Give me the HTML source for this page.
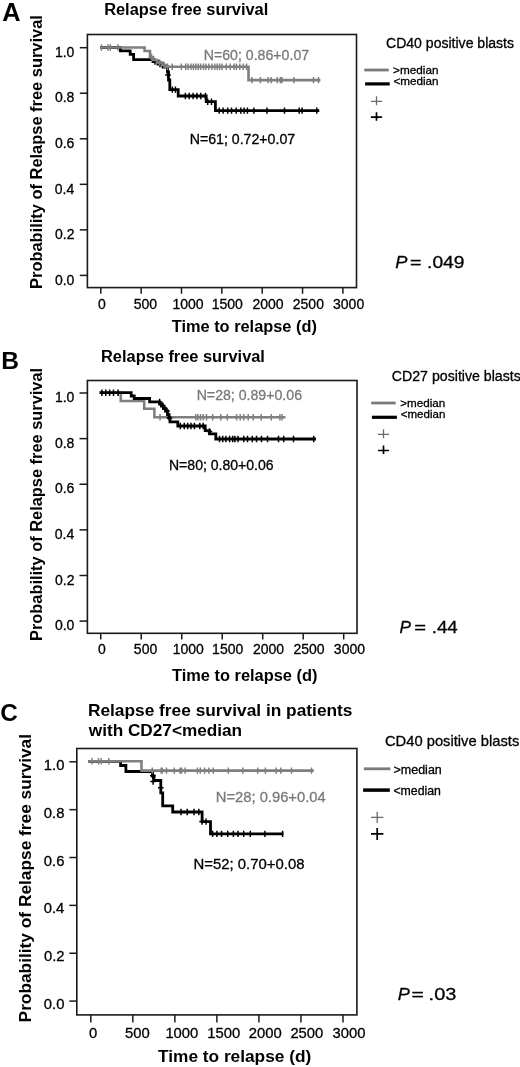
<!DOCTYPE html>
<html><head><meta charset="utf-8"><style>
html,body{margin:0;padding:0;background:#fff;}
svg{display:block;filter:blur(0.35px);}
text{font-family:"Liberation Sans",sans-serif;}
</style></head><body>
<svg width="520" height="1067" viewBox="0 0 520 1067">
<rect width="520" height="1067" fill="#fff"/>
<rect x="87.4" y="34.5" width="269.1" height="253.10000000000002" fill="none" stroke="#1a1a1a" stroke-width="1.6"/>
<line x1="79.8" y1="275.40" x2="87.4" y2="275.40" stroke="#1a1a1a" stroke-width="1.5"/>
<text x="54.90" y="284.60" font-size="14" stroke="#000" stroke-width="0.3">0.0</text>
<line x1="79.8" y1="229.86" x2="87.4" y2="229.86" stroke="#1a1a1a" stroke-width="1.5"/>
<text x="55.04" y="239.06" font-size="14" stroke="#000" stroke-width="0.3">0.2</text>
<line x1="79.8" y1="184.32" x2="87.4" y2="184.32" stroke="#1a1a1a" stroke-width="1.5"/>
<text x="54.76" y="193.52" font-size="14" stroke="#000" stroke-width="0.3">0.4</text>
<line x1="79.8" y1="138.78" x2="87.4" y2="138.78" stroke="#1a1a1a" stroke-width="1.5"/>
<text x="54.90" y="147.98" font-size="14" stroke="#000" stroke-width="0.3">0.6</text>
<line x1="79.8" y1="93.24" x2="87.4" y2="93.24" stroke="#1a1a1a" stroke-width="1.5"/>
<text x="54.90" y="102.44" font-size="14" stroke="#000" stroke-width="0.3">0.8</text>
<line x1="79.8" y1="47.70" x2="87.4" y2="47.70" stroke="#1a1a1a" stroke-width="1.5"/>
<text x="54.90" y="56.90" font-size="14" stroke="#000" stroke-width="0.3">1.0</text>
<line x1="100.80" y1="287.6" x2="100.80" y2="293.8" stroke="#1a1a1a" stroke-width="1.5"/>
<text x="98.03" y="308.7" font-size="14" stroke="#000" stroke-width="0.3">0</text>
<line x1="141.15" y1="287.6" x2="141.15" y2="293.8" stroke="#1a1a1a" stroke-width="1.5"/>
<text x="133.76" y="308.7" font-size="14" stroke="#000" stroke-width="0.3">500</text>
<line x1="181.50" y1="287.6" x2="181.50" y2="293.8" stroke="#1a1a1a" stroke-width="1.5"/>
<text x="172.53" y="308.7" font-size="14" stroke="#000" stroke-width="0.3">1000</text>
<line x1="221.85" y1="287.6" x2="221.85" y2="293.8" stroke="#1a1a1a" stroke-width="1.5"/>
<text x="211.73" y="308.7" font-size="14" stroke="#000" stroke-width="0.3">1500</text>
<line x1="262.20" y1="287.6" x2="262.20" y2="293.8" stroke="#1a1a1a" stroke-width="1.5"/>
<text x="252.39" y="308.7" font-size="14" stroke="#000" stroke-width="0.3">2000</text>
<line x1="302.55" y1="287.6" x2="302.55" y2="293.8" stroke="#1a1a1a" stroke-width="1.5"/>
<text x="292.79" y="308.7" font-size="14" stroke="#000" stroke-width="0.3">2500</text>
<line x1="342.90" y1="287.6" x2="342.90" y2="293.8" stroke="#1a1a1a" stroke-width="1.5"/>
<text x="333.06" y="308.7" font-size="14" stroke="#000" stroke-width="0.3">3000</text>
<rect x="87.4" y="380.5" width="269.6" height="252.79999999999995" fill="none" stroke="#1a1a1a" stroke-width="1.6"/>
<line x1="79.5" y1="621.10" x2="87.4" y2="621.10" stroke="#1a1a1a" stroke-width="1.5"/>
<text x="54.90" y="630.30" font-size="14" stroke="#000" stroke-width="0.3">0.0</text>
<line x1="79.5" y1="575.48" x2="87.4" y2="575.48" stroke="#1a1a1a" stroke-width="1.5"/>
<text x="55.04" y="584.68" font-size="14" stroke="#000" stroke-width="0.3">0.2</text>
<line x1="79.5" y1="529.86" x2="87.4" y2="529.86" stroke="#1a1a1a" stroke-width="1.5"/>
<text x="54.76" y="539.06" font-size="14" stroke="#000" stroke-width="0.3">0.4</text>
<line x1="79.5" y1="484.24" x2="87.4" y2="484.24" stroke="#1a1a1a" stroke-width="1.5"/>
<text x="54.90" y="493.44" font-size="14" stroke="#000" stroke-width="0.3">0.6</text>
<line x1="79.5" y1="438.62" x2="87.4" y2="438.62" stroke="#1a1a1a" stroke-width="1.5"/>
<text x="54.90" y="447.82" font-size="14" stroke="#000" stroke-width="0.3">0.8</text>
<line x1="79.5" y1="393.00" x2="87.4" y2="393.00" stroke="#1a1a1a" stroke-width="1.5"/>
<text x="54.90" y="402.20" font-size="14" stroke="#000" stroke-width="0.3">1.0</text>
<line x1="100.75" y1="633.3" x2="100.75" y2="639.5" stroke="#1a1a1a" stroke-width="1.5"/>
<text x="97.98" y="654.2" font-size="14" stroke="#000" stroke-width="0.3">0</text>
<line x1="141.24" y1="633.3" x2="141.24" y2="639.5" stroke="#1a1a1a" stroke-width="1.5"/>
<text x="133.85" y="654.2" font-size="14" stroke="#000" stroke-width="0.3">500</text>
<line x1="181.73" y1="633.3" x2="181.73" y2="639.5" stroke="#1a1a1a" stroke-width="1.5"/>
<text x="172.76" y="654.2" font-size="14" stroke="#000" stroke-width="0.3">1000</text>
<line x1="222.22" y1="633.3" x2="222.22" y2="639.5" stroke="#1a1a1a" stroke-width="1.5"/>
<text x="212.10" y="654.2" font-size="14" stroke="#000" stroke-width="0.3">1500</text>
<line x1="262.71" y1="633.3" x2="262.71" y2="639.5" stroke="#1a1a1a" stroke-width="1.5"/>
<text x="252.90" y="654.2" font-size="14" stroke="#000" stroke-width="0.3">2000</text>
<line x1="303.20" y1="633.3" x2="303.20" y2="639.5" stroke="#1a1a1a" stroke-width="1.5"/>
<text x="293.44" y="654.2" font-size="14" stroke="#000" stroke-width="0.3">2500</text>
<line x1="343.69" y1="633.3" x2="343.69" y2="639.5" stroke="#1a1a1a" stroke-width="1.5"/>
<text x="333.85" y="654.2" font-size="14" stroke="#000" stroke-width="0.3">3000</text>
<rect x="76.8" y="748.5" width="280.09999999999997" height="266.4" fill="none" stroke="#1a1a1a" stroke-width="1.6"/>
<line x1="69.3" y1="1001.10" x2="76.8" y2="1001.10" stroke="#1a1a1a" stroke-width="1.5"/>
<text x="43.82" y="1009.20" font-size="14.8" stroke="#000" stroke-width="0.3">0.0</text>
<line x1="69.3" y1="953.24" x2="76.8" y2="953.24" stroke="#1a1a1a" stroke-width="1.5"/>
<text x="43.97" y="961.34" font-size="14.8" stroke="#000" stroke-width="0.3">0.2</text>
<line x1="69.3" y1="905.38" x2="76.8" y2="905.38" stroke="#1a1a1a" stroke-width="1.5"/>
<text x="43.67" y="913.48" font-size="14.8" stroke="#000" stroke-width="0.3">0.4</text>
<line x1="69.3" y1="857.52" x2="76.8" y2="857.52" stroke="#1a1a1a" stroke-width="1.5"/>
<text x="43.82" y="865.62" font-size="14.8" stroke="#000" stroke-width="0.3">0.6</text>
<line x1="69.3" y1="809.66" x2="76.8" y2="809.66" stroke="#1a1a1a" stroke-width="1.5"/>
<text x="43.82" y="817.76" font-size="14.8" stroke="#000" stroke-width="0.3">0.8</text>
<line x1="69.3" y1="761.80" x2="76.8" y2="761.80" stroke="#1a1a1a" stroke-width="1.5"/>
<text x="43.82" y="769.90" font-size="14.8" stroke="#000" stroke-width="0.3">1.0</text>
<line x1="90.80" y1="1014.9" x2="90.80" y2="1022.4" stroke="#1a1a1a" stroke-width="1.5"/>
<text x="89.01" y="1037.5" font-size="14.8" stroke="#000" stroke-width="0.3">0</text>
<line x1="132.83" y1="1014.9" x2="132.83" y2="1022.4" stroke="#1a1a1a" stroke-width="1.5"/>
<text x="125.09" y="1037.5" font-size="14.8" stroke="#000" stroke-width="0.3">500</text>
<line x1="174.86" y1="1014.9" x2="174.86" y2="1022.4" stroke="#1a1a1a" stroke-width="1.5"/>
<text x="165.38" y="1037.5" font-size="14.8" stroke="#000" stroke-width="0.3">1000</text>
<line x1="216.89" y1="1014.9" x2="216.89" y2="1022.4" stroke="#1a1a1a" stroke-width="1.5"/>
<text x="207.28" y="1037.5" font-size="14.8" stroke="#000" stroke-width="0.3">1500</text>
<line x1="258.92" y1="1014.9" x2="258.92" y2="1022.4" stroke="#1a1a1a" stroke-width="1.5"/>
<text x="248.75" y="1037.5" font-size="14.8" stroke="#000" stroke-width="0.3">2000</text>
<line x1="300.95" y1="1014.9" x2="300.95" y2="1022.4" stroke="#1a1a1a" stroke-width="1.5"/>
<text x="290.40" y="1037.5" font-size="14.8" stroke="#000" stroke-width="0.3">2500</text>
<line x1="342.98" y1="1014.9" x2="342.98" y2="1022.4" stroke="#1a1a1a" stroke-width="1.5"/>
<text x="332.57" y="1037.5" font-size="14.8" stroke="#000" stroke-width="0.3">3000</text>
<path d="M100.4,47.5 L120.4,47.5 L120.4,50.8 L130.2,50.8 L130.2,54.4 L133.6,54.4 L133.6,59.6 L153.0,59.6 L153.0,61.5 L158.0,61.5 L158.0,64.0 L163.0,64.0 L163.0,67.0 L167.5,67.0 L167.5,72.0 L168.5,72.0 L168.5,80.0 L169.8,80.0 L169.8,89.6 L178.2,89.6 L178.2,96.0 L206.2,96.0 L206.2,101.7 L215.4,101.7 L215.4,110.6 L319.3,110.6 L319.3,110.6" fill="none" stroke="#000" stroke-width="2.8" stroke-linejoin="miter" stroke-linecap="butt"/>
<path d="M155.0,58.3V64.7M152.2,61.5H157.8 M160.0,60.8V67.2M157.2,64.0H162.8 M168.0,71.8V78.2M165.2,75.0H170.8" stroke="#000" stroke-width="1.5" fill="none"/>
<path d="M172.3,86.4V92.8 M175.4,86.4V92.8" stroke="#000" stroke-width="1.5" fill="none"/>
<path d="M185.4,92.8V99.2 M189.2,92.8V99.2 M193.1,92.8V99.2 M196.9,92.8V99.2 M200.8,92.8V99.2 M205.4,92.8V99.2" stroke="#000" stroke-width="1.5" fill="none"/>
<path d="M207.7,98.5V104.9 M211.5,98.5V104.9" stroke="#000" stroke-width="1.5" fill="none"/>
<path d="M219.2,107.4V113.8 M223.1,107.4V113.8 M227.7,107.4V113.8 M231.5,107.4V113.8 M236.2,107.4V113.8 M240.8,107.4V113.8 M244.1,107.4V113.8 M247.4,107.4V113.8 M253.9,107.4V113.8 M267.0,107.4V113.8 M284.5,107.4V113.8 M299.2,107.4V113.8 M302.1,107.4V113.8 M316.8,107.4V113.8" stroke="#000" stroke-width="1.5" fill="none"/>
<path d="M100.4,47.5 L144.6,47.5 L144.6,51.0 L150.0,51.0 L150.0,57.0 L153.0,57.0 L153.0,60.0 L157.0,60.0 L157.0,62.5 L162.0,62.5 L162.0,65.0 L166.0,65.0 L166.0,66.8 L248.5,66.8 L248.5,80.1 L320.4,80.1 L320.4,80.1" fill="none" stroke="#7f7f7f" stroke-width="2.6" stroke-linejoin="miter" stroke-linecap="butt"/>
<path d="M101.5,44.3V50.7 M108.0,44.3V50.7 M110.3,44.3V50.7 M118.0,44.3V50.7" stroke="#7f7f7f" stroke-width="1.5" fill="none"/>
<path d="M151.5,53.8V60.2M148.7,57.0H154.3 M159.5,59.3V65.7M156.7,62.5H162.3 M164.0,61.8V68.2M161.2,65.0H166.8" stroke="#7f7f7f" stroke-width="1.5" fill="none"/>
<path d="M167.5,63.6V70.0 M172.2,63.6V70.0 M181.3,63.6V70.0 M185.7,63.6V70.0 M188.1,63.6V70.0 M191.0,63.6V70.0 M193.4,63.6V70.0 M195.8,63.6V70.0 M198.2,63.6V70.0 M200.6,63.6V70.0 M203.5,63.6V70.0 M205.9,63.6V70.0 M208.8,63.6V70.0 M212.0,63.6V70.0 M214.8,63.6V70.0 M217.2,63.6V70.0 M219.6,63.6V70.0 M222.0,63.6V70.0 M226.3,63.6V70.0 M230.2,63.6V70.0 M234.0,63.6V70.0 M236.4,63.6V70.0 M239.8,63.6V70.0 M243.2,63.6V70.0 M246.5,63.6V70.0" stroke="#7f7f7f" stroke-width="1.5" fill="none"/>
<path d="M251.9,76.9V83.3 M260.4,76.9V83.3 M268.1,76.9V83.3 M271.2,76.9V83.3 M277.3,76.9V83.3 M280.4,76.9V83.3 M281.9,76.9V83.3 M293.9,76.9V83.3 M313.5,76.9V83.3 M318.5,76.9V83.3" stroke="#7f7f7f" stroke-width="1.5" fill="none"/>
<path d="M99.6,392.7 L120.8,392.7 L120.8,401.0 L144.2,401.0 L144.2,408.8 L154.4,408.8 L154.4,417.2 L285.5,417.2 L285.5,417.2" fill="none" stroke="#7f7f7f" stroke-width="2.6" stroke-linejoin="miter" stroke-linecap="butt"/>
<path d="M160.0,414.0V420.4 M195.8,414.0V420.4 M197.8,414.0V420.4 M200.5,414.0V420.4 M203.2,414.0V420.4 M206.5,414.0V420.4 M212.6,414.0V420.4 M220.8,414.0V420.4 M227.3,414.0V420.4 M236.6,414.0V420.4 M240.2,414.0V420.4 M243.8,414.0V420.4 M248.2,414.0V420.4 M253.2,414.0V420.4 M261.2,414.0V420.4 M271.3,414.0V420.4 M279.9,414.0V420.4 M282.1,414.0V420.4" stroke="#7f7f7f" stroke-width="1.5" fill="none"/>
<path d="M99.6,392.7 L131.2,392.7 L131.2,396.0 L134.2,396.0 L134.2,398.5 L149.6,398.5 L149.6,401.9 L159.6,401.9 L159.6,404.0 L161.5,404.0 L161.5,406.0 L163.5,406.0 L163.5,408.5 L165.5,408.5 L165.5,411.0 L167.5,411.0 L167.5,414.5 L169.0,414.5 L169.0,418.0 L170.0,418.0 L170.0,421.8 L177.8,421.8 L177.8,426.0 L205.2,426.0 L205.2,430.6 L209.5,430.6 L209.5,433.9 L215.8,433.9 L215.8,439.0 L316.0,439.0 L316.0,439.0" fill="none" stroke="#000" stroke-width="2.8" stroke-linejoin="miter" stroke-linecap="butt"/>
<path d="M101.9,389.5V395.9 M105.8,389.5V395.9 M109.6,389.5V395.9 M113.5,389.5V395.9 M118.1,389.5V395.9" stroke="#000" stroke-width="1.5" fill="none"/>
<path d="M159.6,398.7V405.1M156.8,401.9H162.4 M163.0,402.8V409.2M160.2,406.0H165.8 M167.0,407.8V414.2M164.2,411.0H169.8 M169.5,414.8V421.2M166.7,418.0H172.3" stroke="#000" stroke-width="1.5" fill="none"/>
<path d="M180.3,422.8V429.2 M184.3,422.8V429.2 M187.7,422.8V429.2 M191.0,422.8V429.2 M194.4,422.8V429.2 M199.8,422.8V429.2 M203.2,422.8V429.2" stroke="#000" stroke-width="1.5" fill="none"/>
<path d="M209.5,428.3V434.7M206.7,431.5H212.3" stroke="#000" stroke-width="1.5" fill="none"/>
<path d="M219.5,435.8V442.2 M222.7,435.8V442.2 M225.9,435.8V442.2 M229.6,435.8V442.2 M232.7,435.8V442.2 M234.9,435.8V442.2 M238.0,435.8V442.2 M243.8,435.8V442.2 M247.5,435.8V442.2 M252.3,435.8V442.2 M256.5,435.8V442.2 M261.5,435.8V442.2 M267.5,435.8V442.2 M278.5,435.8V442.2 M283.7,435.8V442.2 M293.5,435.8V442.2 M313.7,435.8V442.2" stroke="#000" stroke-width="1.5" fill="none"/>
<path d="M88.4,761.3 L120.6,761.3 L120.6,765.5 L125.9,765.5 L125.9,771.5 L152.5,771.5 L152.5,776.0 L154.0,776.0 L154.0,780.5 L160.8,780.5 L160.8,792.8 L162.7,792.8 L162.7,805.8 L172.7,805.8 L172.7,812.0 L202.1,812.0 L202.1,821.6 L210.5,821.6 L210.5,833.9 L283.4,833.9 L283.4,833.9" fill="none" stroke="#000" stroke-width="2.8" stroke-linejoin="miter" stroke-linecap="butt"/>
<path d="M152.8,772.6V779.0M150.0,775.8H155.6 M153.1,778.4V784.8M150.3,781.6H155.9 M160.8,784.6V791.0M158.0,787.8H163.6" stroke="#000" stroke-width="1.5" fill="none"/>
<path d="M181.0,808.8V815.2 M187.2,808.8V815.2 M194.0,808.8V815.2 M198.8,808.8V815.2" stroke="#000" stroke-width="1.5" fill="none"/>
<path d="M202.1,818.4V824.8M199.3,821.6H204.9" stroke="#000" stroke-width="1.5" fill="none"/>
<path d="M206.0,818.4V824.8" stroke="#000" stroke-width="1.5" fill="none"/>
<path d="M212.6,830.7V837.1 M216.9,830.7V837.1 M221.5,830.7V837.1 M227.7,830.7V837.1 M233.4,830.7V837.1 M238.0,830.7V837.1 M243.7,830.7V837.1 M250.3,830.7V837.1 M264.9,830.7V837.1 M282.6,830.7V837.1" stroke="#000" stroke-width="1.5" fill="none"/>
<path d="M88.4,761.3 L141.5,761.3 L141.5,770.6 L313.8,770.6 L313.8,770.6" fill="none" stroke="#7f7f7f" stroke-width="2.6" stroke-linejoin="miter" stroke-linecap="butt"/>
<path d="M91.9,758.1V764.5 M98.5,758.1V764.5 M101.2,758.1V764.5 M108.8,758.1V764.5" stroke="#7f7f7f" stroke-width="1.5" fill="none"/>
<path d="M152.3,767.4V773.8 M161.2,767.4V773.8 M162.3,767.4V773.8 M166.5,767.4V773.8 M174.3,767.4V773.8 M180.1,767.4V773.8 M181.5,767.4V773.8 M185.1,767.4V773.8 M197.4,767.4V773.8 M200.3,767.4V773.8 M204.6,767.4V773.8 M208.9,767.4V773.8 M213.3,767.4V773.8 M228.4,767.4V773.8 M242.8,767.4V773.8 M257.7,767.4V773.8 M265.4,767.4V773.8 M276.2,767.4V773.8 M280.8,767.4V773.8 M291.5,767.4V773.8 M311.5,767.4V773.8" stroke="#7f7f7f" stroke-width="1.5" fill="none"/>
<line x1="364.3" y1="70" x2="388.8" y2="70" stroke="#7a7a7a" stroke-width="2.8"/>
<line x1="365.1" y1="83.9" x2="389.7" y2="83.9" stroke="#000" stroke-width="3.2"/>
<path d="M370.90,101.3H382.10M376.5,96.20V105.20" stroke="#6a6a6a" stroke-width="1.3" fill="none"/>
<path d="M370.90,117.2H382.10M376.5,112.20V120.80" stroke="#000" stroke-width="1.7" fill="none"/>
<line x1="371.2" y1="403.0" x2="395.7" y2="403.0" stroke="#7a7a7a" stroke-width="2.8"/>
<line x1="371.9" y1="417.3" x2="396.9" y2="417.3" stroke="#000" stroke-width="3.2"/>
<path d="M377.90,434.3H389.10M383.5,429.20V438.20" stroke="#6a6a6a" stroke-width="1.3" fill="none"/>
<path d="M377.90,450.5H389.10M383.5,445.50V454.10" stroke="#000" stroke-width="1.7" fill="none"/>
<line x1="363.8" y1="768.8" x2="390.3" y2="768.8" stroke="#7a7a7a" stroke-width="2.8"/>
<line x1="363.1" y1="790.1" x2="389.8" y2="790.1" stroke="#000" stroke-width="3.5"/>
<path d="M371.00,817.3H383.40M377.2,811.70V822.90" stroke="#6a6a6a" stroke-width="1.3" fill="none"/>
<path d="M371.00,833.9H383.40M377.2,828.10V839.90" stroke="#000" stroke-width="1.7" fill="none"/>
<text x="2.14" y="21.00" font-size="25.30" font-weight="bold" fill="#000">A</text>
<text x="104.15" y="14.80" font-size="16.41" font-weight="bold" fill="#000">Relapse free survival</text>
<text x="171.74" y="332.40" font-size="16.38" font-weight="bold" fill="#000">Time to relapse (d)</text>
<text x="386.00" y="48.20" font-size="14.06" fill="#000" stroke="#000" stroke-width="0.3">CD40 positive blasts</text>
<text x="393.11" y="73.70" font-size="11.76" fill="#000" stroke="#000" stroke-width="0.3">&gt;median</text>
<text x="393.42" y="85.10" font-size="11.68" fill="#000" stroke="#000" stroke-width="0.3">&lt;median</text>
<text x="203.67" y="59.90" font-size="14.17" fill="#7a7a7a" stroke="#7a7a7a" stroke-width="0.3">N=60; 0.86+0.07</text>
<text x="189.67" y="144.10" font-size="14.17" fill="#000" stroke="#000" stroke-width="0.3">N=61; 0.72+0.07</text>
<text x="1.18" y="369.20" font-size="24.59" font-weight="bold" fill="#000">B</text>
<text x="101.05" y="362.00" font-size="16.39" font-weight="bold" fill="#000">Relapse free survival</text>
<text x="172.04" y="681.00" font-size="16.40" font-weight="bold" fill="#000">Time to relapse (d)</text>
<text x="391.79" y="381.20" font-size="14.16" fill="#000" stroke="#000" stroke-width="0.3">CD27 positive blasts</text>
<text x="400.22" y="407.00" font-size="11.68" fill="#000" stroke="#000" stroke-width="0.3">&gt;median</text>
<text x="400.72" y="418.10" font-size="11.55" fill="#000" stroke="#000" stroke-width="0.3">&lt;median</text>
<text x="196.67" y="399.50" font-size="14.15" fill="#7a7a7a" stroke="#7a7a7a" stroke-width="0.3">N=28; 0.89+0.06</text>
<text x="168.98" y="470.30" font-size="14.05" fill="#000" stroke="#000" stroke-width="0.3">N=80; 0.80+0.06</text>
<text x="0.23" y="720.60" font-size="24.31" font-weight="bold" fill="#000">C</text>
<text x="87.89" y="715.80" font-size="17.32" font-weight="bold" fill="#000">Relapse free survival in patients</text>
<text x="88.80" y="736.30" font-size="17.20" font-weight="bold" fill="#000">with CD27&lt;median</text>
<text x="158.03" y="1062.00" font-size="17.28" font-weight="bold" fill="#000">Time to relapse (d)</text>
<text x="384.96" y="746.40" font-size="14.74" fill="#000" stroke="#000" stroke-width="0.3">CD40 positive blasts</text>
<text x="393.58" y="773.50" font-size="12.48" fill="#000" stroke="#000" stroke-width="0.3">&gt;median</text>
<text x="393.38" y="795.40" font-size="12.32" fill="#000" stroke="#000" stroke-width="0.3">&lt;median</text>
<text x="215.72" y="802.30" font-size="14.78" fill="#7a7a7a" stroke="#7a7a7a" stroke-width="0.3">N=28; 0.96+0.04</text>
<text x="193.61" y="869.40" font-size="14.88" fill="#000" stroke="#000" stroke-width="0.3">N=52; 0.70+0.08</text>
<text transform="translate(395.35,268.30) scale(1.074,1)" font-size="17" font-style="italic" stroke="#000" stroke-width="0.3">P</text>
<text transform="translate(410.02,268.30) scale(1.152,1)" font-size="17" stroke="#000" stroke-width="0.3">=</text>
<text transform="translate(427.06,268.30) scale(1.134,1)" font-size="17" stroke="#000" stroke-width="0.3">.049</text>
<text transform="translate(399.59,633.10) scale(1.008,1)" font-size="17" font-style="italic" stroke="#000" stroke-width="0.3">P</text>
<text transform="translate(414.19,633.10) scale(1.189,1)" font-size="17" stroke="#000" stroke-width="0.3">=</text>
<text transform="translate(431.71,633.10) scale(1.102,1)" font-size="17" stroke="#000" stroke-width="0.3">.44</text>
<text transform="translate(397.86,999.50) scale(1.064,1)" font-size="17" font-style="italic" stroke="#000" stroke-width="0.3">P</text>
<text transform="translate(411.45,999.50) scale(1.238,1)" font-size="17" stroke="#000" stroke-width="0.3">=</text>
<text transform="translate(428.60,999.50) scale(1.176,1)" font-size="17" stroke="#000" stroke-width="0.3">.03</text>
<text transform="translate(42.40,288.95) rotate(-90)" x="0" y="0" font-size="16.43" font-weight="bold">Probability of Relapse free survival</text>
<text transform="translate(42.40,640.95) rotate(-90)" x="0" y="0" font-size="16.39" font-weight="bold">Probability of Relapse free survival</text>
<text transform="translate(30.60,1022.41) rotate(-90)" x="0" y="0" font-size="17.31" font-weight="bold">Probability of Relapse free survival</text>
</svg>
</body></html>
